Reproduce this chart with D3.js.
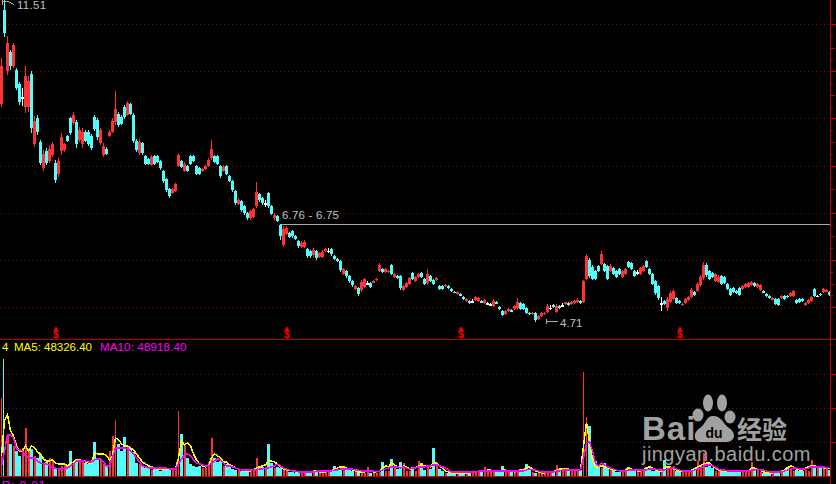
<!DOCTYPE html>
<html><head><meta charset="utf-8">
<style>html,body{margin:0;padding:0;background:#000;overflow:hidden}svg{display:block}</style>
<script src="https://cdn.jsdelivr.net/npm/d3@7"></script></head><body>
<svg id="c" width="836" height="484"></svg>
<script>
// Prices in cents
const highs=[1028,1151,1075,1045,1060,1007,977,964,1011,990,
1000,905,907,854,833,837,844,850,812,816,
869,848,865,903,914,897,882,880,875,875,
867,907,901,880,848,839,875,901,958,914,
907,928,937,933,911,856,856,850,822,816,
822,822,822,812,791,774,752,752,763,827,
812,808,801,822,822,801,797,795,801,816,
854,822,822,801,801,801,780,769,748,731,
727,716,702,706,710,765,742,733,727,744,
716,699,695,676,672,672,659,663,653,642,
640,642,625,621,625,621,617,621,625,625,
625,610,604,600,583,579,568,557,547,543,
557,562,555,553,557,562,593,583,583,579,
591,572,568,568,547,553,564,574,566,572,
574,562,581,568,560,564,547,547,549,547,
540,534,534,530,523,519,515,517,523,521,
515,517,511,509,517,513,502,494,494,498,
496,504,519,511,509,500,490,490,490,483,
490,490,506,504,506,506,504,509,511,511,
513,515,519,515,557,613,604,589,579,589,
619,593,589,591,585,579,583,579,583,598,
596,579,579,585,589,600,583,572,557,547,
521,515,521,534,538,521,515,509,519,523,
540,534,553,568,596,593,579,574,572,568,
568,566,551,540,543,536,543,547,551,553,
555,553,551,549,536,530,526,521,519,519,
526,526,526,532,536,517,519,519,511,517,
523,540,526,530,540,538,534];
const lows=[924,1073,992,1003,1007,960,928,926,911,914,
869,839,865,801,788,801,805,818,763,776,
822,829,850,865,886,837,850,837,850,841,
833,873,854,844,818,822,861,869,886,882,
886,899,905,907,848,829,822,822,801,801,
799,801,805,791,763,744,731,740,744,797,
795,786,786,801,808,780,780,786,791,797,
812,805,801,774,786,780,765,744,716,716,
702,695,685,685,689,710,723,716,712,710,
695,685,680,642,627,653,646,646,642,625,
625,625,604,604,606,600,604,604,617,615,
608,600,595,574,568,562,551,543,536,523,
532,540,547,540,551,555,574,572,572,572,
568,562,560,536,534,540,547,557,553,562,
562,547,547,553,547,555,536,536,543,538,
532,530,526,523,515,511,506,509,513,511,
509,506,504,502,500,506,494,481,483,490,
490,494,494,494,494,485,483,483,468,473,
479,483,487,494,498,487,496,500,504,502,
504,506,509,506,509,557,562,557,557,574,
589,574,557,574,568,562,568,562,568,583,
579,564,568,568,574,583,568,547,526,515,
492,504,492,509,515,506,506,502,506,513,
519,523,532,543,557,564,557,562,553,551,
547,549,536,523,530,528,523,536,540,540,
545,543,540,534,530,521,517,515,504,502,
517,515,519,521,521,506,509,511,502,506,
511,521,521,523,530,532,523];
const opens=[930,1130,1000,1040,1010,1003,972,945,925,925,
995,845,900,850,795,830,810,822,805,782,
830,832,862,900,890,892,855,845,872,872,
863,903,897,848,822,836,863,872,892,910,
904,925,908,930,908,853,826,847,820,814,
802,820,820,810,788,772,750,742,747,800,
810,788,799,820,820,799,795,788,793,800,
816,820,820,799,788,799,778,767,746,718,
725,714,700,688,692,714,740,731,720,742,
714,688,693,674,632,656,657,661,651,640,
628,628,623,619,610,619,607,607,619,620,
623,608,602,598,571,577,566,555,538,541,
536,543,551,551,553,557,577,581,574,574,
589,564,566,566,536,543,550,572,556,564,
572,560,552,566,558,557,545,545,544,545,
538,533,528,529,521,513,513,513,515,513,
513,508,508,506,503,511,500,492,485,492,
494,496,498,509,507,498,488,485,488,476,
481,485,490,499,504,490,502,504,506,509,
506,508,511,513,511,560,600,586,577,587,
592,591,587,576,583,577,581,564,571,596,
594,577,574,570,576,598,581,570,555,545,
508,513,498,511,518,519,513,504,508,515,
522,532,535,546,562,590,577,572,556,554,
566,564,549,538,541,534,541,538,542,542,
547,551,542,536,534,528,524,517,517,517,
519,524,524,523,523,515,517,517,504,508,
513,538,524,528,532,534,532];
const closes=[1010,1080,1060,1010,1055,965,935,945,990,980,
880,895,872,805,825,805,835,845,770,810,
860,845,853,870,908,845,875,872,853,845,
838,877,860,875,842,825,872,895,920,886,
889,903,932,910,852,832,850,826,804,804,
818,804,808,794,767,748,735,750,760,822,
798,804,789,804,810,783,783,793,799,812,
835,808,804,778,798,783,768,748,720,728,
706,699,688,703,707,745,727,720,720,714,
698,696,683,650,665,668,649,650,645,629,
637,639,608,608,621,604,614,618,623,620,
612,603,598,578,580,566,555,547,544,527,
553,559,551,543,555,560,590,575,581,577,
571,570,562,540,545,551,562,560,564,570,
564,550,570,556,550,562,539,539,548,540,
534,531,532,524,517,517,508,513,521,519,
511,515,508,506,514,508,496,484,492,496,
492,502,510,497,497,488,485,488,472,481,
488,488,503,499,500,503,498,504,510,504,
511,513,516,508,555,608,566,560,560,576,
612,577,560,588,570,565,570,576,580,585,
581,566,574,583,587,585,570,550,530,520,
508,506,518,531,535,508,508,507,517,521,
537,526,550,565,590,568,560,564,570,565,
550,552,539,526,532,530,526,545,549,551,
553,545,549,546,532,523,519,519,506,504,
524,517,521,530,534,508,511,513,509,515,
521,523,524,525,538,536,525];
// Volume in thousands
const volumes=[459,682,241,188,176,147,118,165,282,153,
159,118,106,129,71,82,106,88,47,41,
59,65,59,147,88,100,82,82,76,71,
88,200,94,100,71,59,147,235,329,188,
147,229,176,165,141,76,71,59,47,53,
35,41,47,29,47,47,41,35,41,382,
247,176,106,71,59,53,59,47,47,82,
223,106,82,88,59,71,53,41,35,35,
29,29,29,35,35,106,59,53,47,188,
76,47,53,47,35,29,24,24,18,24,
18,24,29,29,29,24,24,24,29,29,
35,59,41,35,59,41,41,29,29,24,
18,18,53,18,18,18,24,82,29,29,
100,59,41,82,76,29,29,53,29,88,
76,35,53,41,165,65,41,29,18,18,
18,18,18,18,18,18,18,29,29,24,
29,53,35,29,24,24,24,59,35,24,
24,24,29,41,41,71,41,24,18,18,
18,18,29,29,29,65,29,29,35,41,
35,41,35,35,606,347,294,106,88,59,
47,76,47,35,35,24,24,29,29,53,
29,29,29,29,29,53,41,29,29,29,
29,94,59,53,59,29,29,29,29,35,
35,47,88,47,135,53,76,47,29,29,
29,35,24,29,29,24,35,29,24,29,
82,35,35,24,18,18,18,18,24,29,
29,29,53,41,29,35,29,29,35,29,
94,65,59,53,41,47,35];
const ma5=[118,323,359,265,235,176,147,147,176,147,
176,165,141,129,100,88,88,94,76,71,
71,71,59,76,82,94,94,88,82,76,
76,135,129,129,129,118,94,118,223,212,
188,176,176,165,153,129,106,82,71,59,
53,47,41,41,41,41,41,41,41,106,
206,182,194,176,129,94,71,59,53,59,
106,129,118,106,82,82,65,59,47,41,
35,29,29,29,35,47,53,59,65,88,
88,82,71,53,41,35,35,29,24,24,
24,24,24,24,29,29,24,24,24,29,
29,41,47,53,53,47,41,35,29,24,
24,24,29,29,24,24,29,47,59,53,
76,65,53,47,59,53,41,41,47,59,
65,59,59,53,76,76,59,47,29,24,
18,18,18,18,18,18,18,24,24,29,
29,29,35,35,29,29,29,35,35,29,
29,24,29,35,35,47,53,41,29,24,
18,18,24,24,24,35,41,41,41,41,
35,35,35,35,176,312,200,94,53,53,
59,53,47,41,35,35,29,29,35,47,
41,35,29,29,35,47,53,47,35,29,
29,47,53,53,41,35,29,29,29,29,
35,41,53,59,71,76,76,59,47,35,
29,29,29,24,29,29,29,29,29,29,
47,47,41,35,24,18,18,18,24,24,
29,35,47,59,53,41,35,35,47,53,
59,59,53,53,47,47,48];
const ma10=[59,147,241,241,223,159,153,147,118,106,
106,106,88,76,71,71,59,47,47,41,
41,47,47,59,71,88,88,88,88,82,
82,94,100,100,82,59,59,106,165,165,
165,165,159,147,129,106,82,59,53,47,
47,47,47,47,47,47,41,41,41,71,
100,123,129,118,94,76,71,65,59,59,
76,88,100,94,76,59,59,53,47,41,
35,35,35,35,35,35,41,41,47,47,
53,59,71,59,47,41,35,29,29,24,
24,24,24,24,24,29,29,29,29,29,
29,35,35,41,41,41,41,41,35,35,
29,29,29,29,29,24,29,35,41,47,
53,53,53,47,53,47,41,47,47,53,
53,53,59,59,65,65,59,53,47,35,
24,24,24,24,24,24,24,24,24,29,
29,29,29,29,29,29,29,29,29,29,
29,29,29,29,29,35,41,35,35,29,
24,24,24,24,24,29,29,35,35,35,
35,35,35,35,106,194,200,147,76,59,
76,65,53,47,41,35,29,29,29,35,
35,35,35,35,35,35,41,41,41,35,
35,35,41,47,47,41,35,29,29,29,
29,35,41,47,59,65,65,59,53,41,
35,35,29,29,29,29,29,29,29,29,
35,35,41,35,35,29,24,24,24,24,
24,29,35,41,47,47,41,41,41,47,
53,53,53,53,53,47,49];
const priceGrid=[1100,1000,900,800,700,600,500];
const priceMinor=[1075,1025,975,925,875,825,775,725,675,625,575,525];
const priceMid=[1050,950,850,750,650,550];
const volumeGrid=[200,400,600];
const dividendIndex=[18,95,153,226];
const labels={high:"11.51",low:"4.71",level:"6.76 - 6.75",ma:"4",ma5:"MA5: 48326.40",ma10:"MA10: 48918.40",d:"D: 0.01"};
const levelCents=677;

const RED="#ff3333",CYAN="#54fcfc",GRID="#8a0000",AXIS="#c00000";
const FONT="'Liberation Sans',Arial,sans-serif";
const svg=d3.select("#c");
svg.append("rect").attr("width",836).attr("height",484).attr("fill","#000");
const n=highs.length, idx=d3.range(n);
const x=d3.scaleLinear().domain([0,n-1]).range([1,1+3*(n-1)]);
const y=d3.scaleLinear().domain([1100,500]).range([24,307.2]);
const v=d3.scaleLinear().domain([0,600]).range([476,373.5]);
const col=i=>opens[i]===closes[i]?"#ffffff":(closes[i]>opens[i]?RED:CYAN);

// grids
const grid=(vals,sc)=>{svg.append("g").selectAll("line").data(vals).join("line")
 .attr("x1",0).attr("x2",830).attr("y1",d=>Math.round(sc(d))+.5).attr("y2",d=>Math.round(sc(d))+.5)
 .attr("stroke",GRID).attr("stroke-dasharray","1 3").attr("shape-rendering","crispEdges");};
grid(priceGrid,y); grid(volumeGrid,v);

// level line
svg.append("line").attr("x1",280).attr("x2",830).attr("y1",Math.round(y(levelCents))+.5).attr("y2",Math.round(y(levelCents))+.5)
 .attr("stroke","#a8a8a8").attr("shape-rendering","crispEdges");

// candles
const cg=svg.append("g").attr("shape-rendering","crispEdges");
cg.selectAll("line").data(idx).join("line")
 .attr("x1",i=>x(i)+.5).attr("x2",i=>x(i)+.5).attr("y1",i=>y(highs[i])).attr("y2",i=>y(lows[i]))
 .attr("stroke",col);
cg.selectAll("rect").data(idx).join("rect")
 .attr("x",i=>x(i)-1).attr("width",3)
 .attr("y",i=>y(Math.max(opens[i],closes[i])))
 .attr("height",i=>Math.max(1.5,Math.abs(y(opens[i])-y(closes[i]))))
 .attr("fill",col);

// volume
svg.append("g").attr("shape-rendering","crispEdges").selectAll("rect").data(idx).join("rect")
 .attr("x",i=>x(i)-(closes[i]>=opens[i]?0:1)).attr("width",i=>volumes[i]>300?1:(closes[i]>=opens[i]?2:3))
 .attr("y",i=>v(volumes[i])).attr("height",i=>v(0)-v(volumes[i])).attr("fill",i=>closes[i]>=opens[i]?RED:CYAN);
const ln=arr=>d3.line().x((d,i)=>x(i)+.5).y(d=>v(d))(arr);
svg.append("path").attr("d",ln(ma5)).attr("fill","none").attr("stroke","#ffff00").attr("stroke-width",1.5).attr("shape-rendering","crispEdges");
svg.append("path").attr("d",ln(ma10)).attr("fill","none").attr("stroke","#ff00ff").attr("stroke-width",1.5).attr("shape-rendering","crispEdges");

// frame lines
svg.append("line").attr("x1",0).attr("x2",830).attr("y1",339.5).attr("y2",339.5).attr("stroke",AXIS);
svg.append("line").attr("x1",0).attr("x2",830).attr("y1",476.5).attr("y2",476.5).attr("stroke",AXIS);
svg.append("line").attr("x1",830.5).attr("x2",830.5).attr("y1",0).attr("y2",484).attr("stroke",AXIS);
svg.append("line").attr("x1",830).attr("x2",836).attr("y1",339.5).attr("y2",339.5).attr("stroke",AXIS);

// right axes drawn by d3
const axisG=(vals,sc,len)=>{const g=svg.append("g").attr("transform","translate(830.5,0)")
 .call(d3.axisRight(sc).tickValues(vals).tickSize(len).tickFormat(""));
 g.select(".domain").remove(); g.selectAll("line").attr("stroke",AXIS).attr("shape-rendering","crispEdges");};
axisG(priceGrid,y,6); axisG(priceMid,y,4); axisG(priceMinor,y,2);
axisG(volumeGrid,v,6);

// dollar markers
const dg=svg.append("g").attr("fill","#ff0000");
dividendIndex.forEach(i=>{const px=x(i)+1;
 dg.append("path").attr("d",d3.symbol(d3.symbolTriangle,10)()).attr("transform",`translate(${px},329)`);
 dg.append("text").attr("x",px).attr("y",338).attr("text-anchor","middle").attr("font-family",FONT)
  .attr("font-size",10.5).attr("font-weight","bold").text("$");
});

// price annotations
const ag=svg.append("g").attr("stroke","#b0b0b0").attr("fill","none");
ag.append("path").attr("d","M2.5 0V5M3 1.5H8L14 4.5").attr("shape-rendering","crispEdges");
ag.append("path").attr("d","M546.5 319V324M547 321.5H558").attr("shape-rendering","crispEdges");
const txt=(t,px,py,c,s)=>svg.append("text").attr("x",px).attr("y",py).attr("fill",c).attr("font-family",FONT).attr("font-size",s).text(t);
txt(labels.high,17,9,"#c0c0c0",11.5).attr("letter-spacing",.3);
txt(labels.low,560,327,"#c0c0c0",11.5);
txt(labels.level,282,219,"#c0c0c0",11.5).attr("letter-spacing",.2);
txt(labels.ma,2,351,"#ffff00",11.5);
txt(labels.ma5,14,351,"#ffff00",11.5);
txt(labels.ma10,100,351,"#ff00ff",11.5).attr("letter-spacing",.15);
txt(labels.d,2,489,"#ff00ff",11.5).attr("letter-spacing",1);

// watermark
const W="#aeaeae", wm=svg.append("g").attr("fill",W).attr("opacity",.93);
wm.append("text").attr("x",642).attr("y",440).attr("font-family",FONT).attr("font-weight","bold").attr("font-size",33).attr("letter-spacing",1).text("Bai");
[[708,403,5,8.5],[722,403,5,8.5],[698,415,5.5,6.5],[730,417,5.5,6.5]].forEach(e=>wm.append("ellipse").attr("cx",e[0]).attr("cy",e[1]).attr("rx",e[2]).attr("ry",e[3]));
wm.append("path").attr("d","M713 416C722 416 723 424 729 428C737 433 735 442 726 442C720 442 707 442 701 442C694 442 692 433 700 428C706 424 706 416 713 416Z");
wm.append("text").attr("x",714).attr("y",438).attr("text-anchor","middle").attr("fill","#000").attr("font-family",FONT).attr("font-weight","bold").attr("font-size",14).text("du");
wm.append("text").attr("x",737).attr("y",439).attr("font-family","'Noto Sans CJK SC',sans-serif").attr("font-weight","bold").attr("font-size",25).text("经验");
wm.append("text").attr("x",642).attr("y",461).attr("font-family",FONT).attr("font-size",20).attr("letter-spacing",.45).text("jingyan.baidu.com");
</script></body></html>
